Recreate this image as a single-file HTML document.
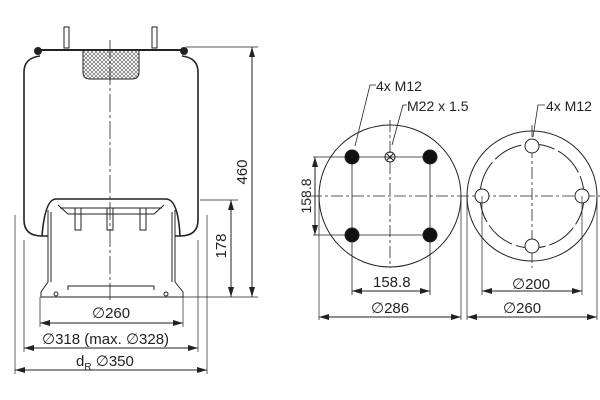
<!DOCTYPE html>
<html><head><style>
html,body{margin:0;padding:0;background:#fff;}
svg{display:block;}
text{font-family:"Liberation Sans",Arial,sans-serif;fill:#222;}
.d{font-family:"DejaVu Sans",sans-serif;font-style:italic;}
</style></head><body>
<svg width="600" height="400" viewBox="0 0 600 400" xmlns="http://www.w3.org/2000/svg">
<defs>
<marker id="a" viewBox="0 0 10 6" refX="10" refY="3" markerWidth="10" markerHeight="6" orient="auto-start-reverse" markerUnits="userSpaceOnUse"><path d="M0,0 L10,3 L0,6 z" fill="#222"/></marker>
<pattern id="h" width="4" height="4" patternUnits="userSpaceOnUse"><path d="M0,4 L4,0 M0,0 L4,4" stroke="#555" stroke-width="0.6"/></pattern>
</defs>
<g stroke="#222" fill="none" stroke-width="1">
<path d="M36,50 L186,50" stroke-width="2"/>
<circle cx="38" cy="51" r="3.5" fill="#222"/><circle cx="184" cy="51" r="3.5" fill="#222"/>
<rect x="64" y="27" width="5" height="21"/><rect x="152" y="27" width="5" height="21"/>
<path d="M83,50 L83,72 Q83,79 90,79 L132,79 Q139,79 139,72 L139,50 Z" fill="url(#h)"/>
<path d="M40,56 Q24,58 24,72 L24,220 Q24,236 42,236 L48,236" stroke-width="1.6"/>
<path d="M182,56 Q198,58 198,72 L198,220 Q198,236 180,236 L175,236" stroke-width="1.6"/>
<path d="M42,236 Q45,199 56,199 L166,199 Q178,199 180,236" stroke-width="1.6"/>
<path d="M48,210 L48,282 L41,292 L41,297 L183,297 L183,292 L175,282 L175,210"/>
<path d="M51,212 L51,282 M172,212 L172,282"/>
<path d="M58,205 L68,214 L154,214 L164,205"/>
<path d="M60,208 L162,208"/>
<rect x="75" y="208" width="6" height="22"/><rect x="107" y="208" width="6" height="22"/><rect x="140" y="208" width="6" height="22"/>
<path d="M68,290 L68,286 L154,286 L154,290"/>
<circle cx="56" cy="294" r="2"/><circle cx="166" cy="294" r="2"/>
<path d="M110,40 L110,300" stroke-dasharray="18,3,3,3" stroke-width="0.8"/>
<path d="M186,47 L258,47 M200,200 L238,200 M183,297 L258,297" stroke-width="0.7"/>
<path d="M252,47 L252,297" marker-start="url(#a)" marker-end="url(#a)"/>
<path d="M231,200 L231,297" marker-start="url(#a)" marker-end="url(#a)"/>
<path d="M40,297 L40,327 M183,297 L183,327" stroke-width="0.7"/>
<path d="M24,240 L24,352 M198,240 L198,352" stroke-width="0.7"/>
<path d="M15,215 L15,374 M207,215 L207,374" stroke-width="0.7"/>
<path d="M40,323 L183,323" marker-start="url(#a)" marker-end="url(#a)"/>
<path d="M24,348 L198,348" marker-start="url(#a)" marker-end="url(#a)"/>
<path d="M15,370 L207,370" marker-start="url(#a)" marker-end="url(#a)"/>

<circle cx="390" cy="196" r="71"/>
<path d="M310,196 L600,196" stroke-dasharray="12,3,3,3" stroke-width="0.8"/>
<path d="M390,120 L390,268" stroke-dasharray="12,3,3,3" stroke-width="0.8"/>
<path d="M313,157 L430,157 M313,235 L430,235 M352,157 L352,295 M430,157 L430,295" stroke-width="0.8"/>
<path d="M319,196 L319,320 M461,196 L461,320" stroke-width="0.7"/>
<path d="M315,157 L315,235" marker-start="url(#a)" marker-end="url(#a)"/>
<path d="M352,291 L430,291" marker-start="url(#a)" marker-end="url(#a)"/>
<path d="M319,317 L461,317" marker-start="url(#a)" marker-end="url(#a)"/>
<circle cx="352" cy="157" r="7" fill="#111"/><circle cx="430" cy="157" r="7" fill="#111"/>
<circle cx="352" cy="235" r="7" fill="#111"/><circle cx="430" cy="235" r="7" fill="#111"/>
<circle cx="390" cy="157" r="5"/><path d="M387,154 L393,160 M393,154 L387,160"/>
<path d="M355,146 L370,85 L376,85 M392,145 L403,105 L407,105" stroke-width="0.8"/>
<circle cx="532" cy="196" r="65"/>
<circle cx="532" cy="196" r="52" stroke-dasharray="30,4"/>
<path d="M532,125 L532,268" stroke-dasharray="12,3,3,3" stroke-width="0.8"/>
<circle cx="532" cy="146" r="7" fill="#fff"/><circle cx="532" cy="246" r="7" fill="#fff"/>
<circle cx="482" cy="196" r="7" fill="#fff"/><circle cx="582" cy="196" r="7" fill="#fff"/>
<path d="M533,137 L538,105 L545,105" stroke-width="0.8"/>
<path d="M482,196 L482,295 M582,196 L582,295 M467,196 L467,320 M597,196 L597,320" stroke-width="0.7"/>
<path d="M482,291 L582,291" marker-start="url(#a)" marker-end="url(#a)"/>
<path d="M467,317 L597,317" marker-start="url(#a)" marker-end="url(#a)"/>
</g>
<g font-size="15">
<text text-anchor="middle" transform="translate(247,172) rotate(-90)">460</text>
<text text-anchor="middle" transform="translate(226,246) rotate(-90)">178</text>
<text x="92" y="318"><tspan class="d">∅</tspan>260</text>
<text x="42" y="344"><tspan class="d">∅</tspan>318 (max. <tspan class="d">∅</tspan>328)</text>
<text x="76" y="366">d<tspan font-size="10" dy="4">R</tspan><tspan dy="-4">  </tspan><tspan class="d">∅</tspan>350</text>
<text x="376" y="91" font-size="14">4x M12</text>
<text x="407" y="111" font-size="14">M22 x 1.5</text>
<text x="546" y="111" font-size="14">4x M12</text>
<text text-anchor="middle" transform="translate(311,196) rotate(-90)" font-size="14">158.8</text>
<text x="373" y="287">158.8</text>
<text x="371" y="313"><tspan class="d">∅</tspan>286</text>
<text x="512" y="289"><tspan class="d">∅</tspan>200</text>
<text x="503" y="313"><tspan class="d">∅</tspan>260</text>
</g>
</svg>
</body></html>
